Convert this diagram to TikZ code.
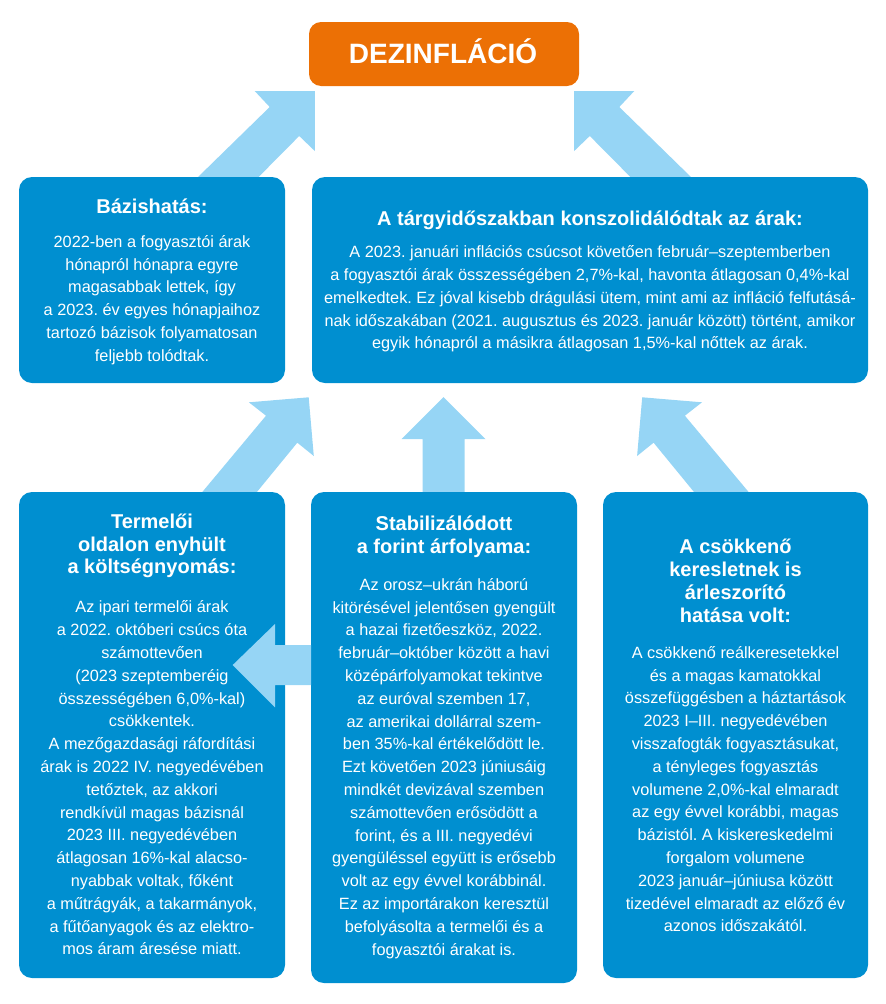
\documentclass[tikz,border=0pt]{standalone}
\usepackage{fontspec}
\setmainfont{Liberation Sans}
\definecolor{mnbblue}{RGB}{0,143,208}
\definecolor{mnblight}{RGB}{150,213,245}
\definecolor{mnborange}{RGB}{236,112,5}
\frenchspacing
\begin{document}
\begin{tikzpicture}[x=1pt,y=-1pt,
  card/.style={fill=mnbblue, rounded corners=13pt, inner sep=0pt, draw=none},
  head/.style={text=white, font=\bfseries\fontsize{20}{22.7}\selectfont, align=center, inner sep=0pt},
  body/.style={text=white, font=\fontsize{16.3}{22.8}\selectfont, align=center, inner sep=0pt},
  flow/.style={fill=mnblight, draw=none}]
\useasboundingbox (0,0) rectangle (886,1004);
% big arrows (behind cards)
\fill[flow] (197,178) -- (269.7,107) -- (254.7,91) -- (314.8,91) -- (314.8,151) -- (299.2,136) -- (257.6,178) -- cycle;
\fill[flow] (692,178) -- (619.3,107) -- (634.3,91) -- (574.2,91) -- (574.2,151) -- (589.8,136) -- (631.4,178) -- cycle;
\fill[flow] (422.5,492) -- (422.5,439) -- (401.5,439) -- (443.5,397) -- (485.5,439) -- (464.5,439) -- (464.5,492) -- cycle;
\fill[flow] (202.3,492) -- (266,415.7) -- (248.9,402.3) -- (308.7,397.3) -- (313.8,456) -- (297.3,442.7) -- (256.9,492) -- cycle;
\fill[flow] (748.6,492) -- (684.9,415.7) -- (702,402.3) -- (642.2,397.3) -- (637.1,456) -- (653.6,442.7) -- (694,492) -- cycle;
% title
\node[fill=mnborange, rounded corners=12pt, minimum width=270pt, minimum height=64pt, inner sep=0pt] (title) at (444,54) {};
\node[anchor=base, text=white, font=\bfseries\fontsize{28}{30}\selectfont, inner sep=0pt] (titletext) at (443,63.3) {DEZINFLÁCIÓ};
% cards
\node[card, minimum width=266pt, minimum height=206pt] (b1) at (152,280) {};
\node[card, minimum width=556pt, minimum height=206pt] (b2) at (590,280) {};
\node[card, minimum width=266pt, minimum height=486pt] (b3) at (152,735) {};
\node[card, minimum width=266pt, minimum height=491pt] (b4) at (444,737.5) {};
\node[card, minimum width=265pt, minimum height=486pt] (b5) at (735.5,735) {};
% left arrow over card b3
\fill[flow] (232.7,665) -- (275,624) -- (275,645) -- (311,645) -- (311,685) -- (275,685) -- (275,707.3) -- cycle;
% texts
\node[head, anchor=base] (h1) at (152,213.3) {Bázishatás:};
\node[body] (t1) at (152,300) {2022-ben a fogyasztói árak\\hónapról hónapra egyre\\magasabbak lettek, így\\a 2023. év egyes hónapjaihoz\\tartozó bázisok folyamatosan\\feljebb tolódtak.};
\node[head, anchor=base] (h2) at (590,225) {A tárgyidőszakban konszolidálódtak az árak:};
\node[body] (t2) at (590,299) {A 2023. januári inflációs csúcsot követően február–szeptemberben\\a fogyasztói árak összességében 2,7\%-kal, havonta átlagosan 0,4\%-kal\\emelkedtek. Ez jóval kisebb drágulási ütem, mint ami az infláció felfutásá-\\nak időszakában (2021. augusztus és 2023. január között) történt, amikor\\egyik hónapról a másikra átlagosan 1,5\%-kal nőttek az árak.};
\node[head] (h3) at (152,546) {Termelői\\oldalon enyhült\\a költségnyomás:};
\node[body] (t3) at (152,778) {Az ipari termelői árak\\a 2022. októberi csúcs óta\\számottevően\\(2023 szeptemberéig\\összességében 6,0\%-kal)\\csökkentek.\\A mezőgazdasági ráfordítási\\árak is 2022 IV. negyedévében\\tetőztek, az akkori\\rendkívül magas bázisnál\\2023 III. negyedévében\\átlagosan 16\%-kal alacso-\\nyabbak voltak, főként\\a műtrágyák, a takarmányok,\\a fűtőanyagok és az elektro-\\mos áram áresése miatt.};
\node[head] (h4) at (444,536.7) {Stabilizálódott\\a forint árfolyama:};
\node[body] (t4) at (444,768.3) {Az orosz–ukrán háború\\kitörésével jelentősen gyengült\\a hazai fizetőeszköz, 2022.\\február–október között a havi\\középárfolyamokat tekintve\\az euróval szemben 17,\\az amerikai dollárral szem-\\ben 35\%-kal értékelődött le.\\Ezt követően 2023 júniusáig\\mindkét devizával szemben\\számottevően erősödött a\\forint, és a III. negyedévi\\gyengüléssel együtt is erősebb\\volt az egy évvel korábbinál.\\Ez az importárakon keresztül\\befolyásolta a termelői és a\\fogyasztói árakat is.};
\node[head] (h5) at (735.5,580.8) {A csökkenő\\keresletnek is\\árleszorító\\hatása volt:};
\node[body] (t5) at (735.5,789.2) {A csökkenő reálkeresetekkel\\és a magas kamatokkal\\összefüggésben a háztartások\\2023 I–III. negyedévében\\visszafogták fogyasztásukat,\\a tényleges fogyasztás\\volumene 2,0\%-kal elmaradt\\az egy évvel korábbi, magas\\bázistól. A kiskereskedelmi\\forgalom volumene\\2023 január–júniusa között\\tizedével elmaradt az előző év\\azonos időszakától.};
\end{tikzpicture}
\end{document}
